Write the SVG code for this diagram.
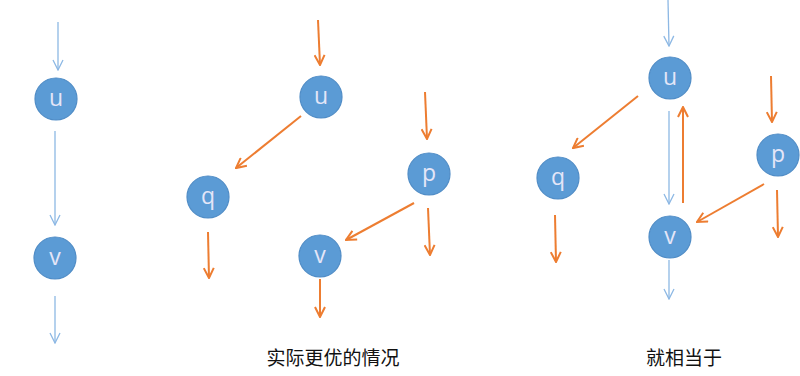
<svg xmlns="http://www.w3.org/2000/svg" width="800" height="376" viewBox="0 0 800 376">
<defs>
<style>
.node circle{fill:#5B9BD5;stroke:#4F8CC6;stroke-width:1.2}
.node text{font-family:"Open Sans","Liberation Sans",sans-serif;font-size:23px;fill:#E4E6F8;text-anchor:middle}
.b{stroke:#8DB8E4;stroke-width:1.3;fill:none;marker-end:url(#ab)}
.o{stroke:#ED7D31;stroke-width:2;fill:none;marker-end:url(#ao)}
.cap{font-family:"Noto Sans CJK SC","Noto Sans",sans-serif;font-size:19px;fill:#111;text-anchor:middle}
</style>
<marker id="ab" viewBox="0 0 12 12" refX="11" refY="6" markerWidth="12" markerHeight="12" markerUnits="userSpaceOnUse" orient="auto">
<path d="M1,1 L11,6 L1,11" fill="none" stroke="#8DB8E4" stroke-width="1.3"/>
</marker>
<marker id="ao" viewBox="0 0 12 12" refX="11" refY="6" markerWidth="12" markerHeight="12" markerUnits="userSpaceOnUse" orient="auto">
<path d="M1,1 L11,6 L1,11" fill="none" stroke="#ED7D31" stroke-width="2"/>
</marker>
</defs>
<rect width="800" height="376" fill="#fff"/>
<g id="connectors">
<line class="b" x1="58" y1="22" x2="58" y2="70"/>
<line class="b" x1="55" y1="131" x2="55" y2="225"/>
<line class="b" x1="55" y1="296" x2="55" y2="343"/>
<line class="o" x1="318" y1="20" x2="320" y2="65"/>
<line class="o" x1="301" y1="116" x2="236" y2="168"/>
<line class="o" x1="208" y1="232" x2="209" y2="278"/>
<line class="o" x1="425" y1="92" x2="427" y2="139"/>
<line class="o" x1="414" y1="203" x2="346" y2="240"/>
<line class="o" x1="428" y1="208" x2="430" y2="255"/>
<line class="o" x1="320" y1="279" x2="320" y2="317"/>
<line class="b" x1="668" y1="0" x2="669" y2="46"/>
<line class="o" x1="638" y1="96" x2="573" y2="148"/>
<line class="o" x1="555" y1="215" x2="556" y2="262"/>
<line class="b" x1="669" y1="111" x2="669" y2="204"/>
<line class="o" x1="683" y1="203" x2="683" y2="107"/>
<line class="b" x1="669" y1="260" x2="669" y2="299"/>
<line class="o" x1="771" y1="76" x2="772" y2="122"/>
<line class="o" x1="764" y1="184" x2="697" y2="222"/>
<line class="o" x1="777" y1="190" x2="778" y2="237"/>
</g>
<g id="L-u" class="node"><circle cx="56" cy="99" r="21"/><text x="56" y="106">u</text></g>
<g id="L-v" class="node"><circle cx="55" cy="258" r="21"/><text x="55" y="265">v</text></g>
<g id="M-u" class="node"><circle cx="321" cy="97" r="21"/><text x="321" y="104">u</text></g>
<g id="M-q" class="node"><circle cx="208" cy="197" r="21"/><text x="208" y="204">q</text></g>
<g id="M-p" class="node"><circle cx="429" cy="174" r="21"/><text x="429" y="181">p</text></g>
<g id="M-v" class="node"><circle cx="320" cy="256" r="21"/><text x="320" y="263">v</text></g>
<g id="R-u" class="node"><circle cx="670" cy="78" r="21"/><text x="670" y="85">u</text></g>
<g id="R-q" class="node"><circle cx="558" cy="178" r="21"/><text x="558" y="185">q</text></g>
<g id="R-p" class="node"><circle cx="778" cy="155" r="21"/><text x="778" y="162">p</text></g>
<g id="R-v" class="node"><circle cx="670" cy="237" r="21"/><text x="670" y="244">v</text></g>
<text class="cap" x="333" y="365">实际更优的情况</text>
<text class="cap" x="684" y="365">就相当于</text>
</svg>
